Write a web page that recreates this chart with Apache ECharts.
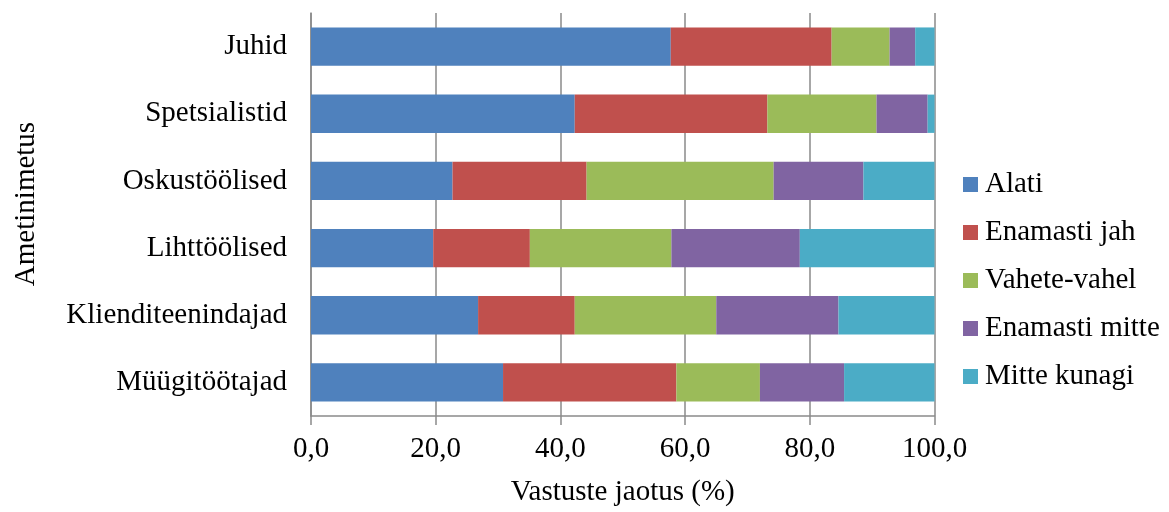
<!DOCTYPE html>
<html>
<head>
<meta charset="utf-8">
<script src="https://cdn.jsdelivr.net/npm/echarts@6/dist/echarts.min.js"></script>
<style>
  html, body { margin: 0; padding: 0; background: #fff; }
  #chart { width: 1169px; height: 512px; }
</style>
</head>
<body>
<div id="chart"></div>
<script>
// Occupations, top to bottom
const categories = ['Juhid', 'Spetsialistid', 'Oskustöölised', 'Lihttöölised', 'Klienditeenindajad', 'Müügitöötajad'];

// Share of answers per occupation (%)
const alati          = [57.7, 42.3, 22.7, 19.6, 26.8, 30.8];
const enamastiJah    = [25.8, 30.9, 21.5, 15.5, 15.5, 27.8];
const vaheteVahel    = [ 9.3, 17.5, 30.0, 22.7, 22.7, 13.4];
const enamastiMitte  = [ 4.1,  8.2, 14.4, 20.6, 19.6, 13.5];
const mitteKunagi    = [ 3.1,  1.1, 11.4, 21.6, 15.4, 14.5];

const seriesNames = ['Alati', 'Enamasti jah', 'Vahete-vahel', 'Enamasti mitte', 'Mitte kunagi'];
const seriesData = [alati, enamastiJah, vaheteVahel, enamastiMitte, mitteKunagi];
const colors = ['#4F81BD', '#C0504D', '#9BBB59', '#8064A2', '#4BACC6'];

const FONT = '"Liberation Serif", "Times New Roman", serif';
const FS = 29;
const GRID_COLOR = '#8a8a8a';

const chart = echarts.init(document.getElementById('chart'), null, { renderer: 'canvas' });

chart.setOption({
  animation: false,
  color: colors,
  textStyle: { fontFamily: FONT, color: '#000' },
  grid: { left: 311, right: 234.5, top: 13, bottom: 94, containLabel: false },
  legend: {
    orient: 'vertical',
    left: 958,
    top: 164,
    itemWidth: 15,
    itemHeight: 15,
    itemGap: 17,
    icon: 'rect',
    textStyle: { fontFamily: FONT, fontSize: FS, color: '#000', lineHeight: 31, padding: [0, 0, 0, 2] },
    data: seriesNames
  },
  xAxis: {
    type: 'value',
    min: 0,
    max: 100,
    interval: 20,
    name: 'Vastuste jaotus (%)',
    nameLocation: 'middle',
    nameGap: 62,
    nameTextStyle: { fontFamily: FONT, fontSize: FS, color: '#000' },
    axisLine: { show: true, lineStyle: { color: GRID_COLOR, width: 1.5 } },
    axisTick: { show: true, length: 9, lineStyle: { color: GRID_COLOR, width: 1.5 } },
    axisLabel: {
      fontFamily: FONT, fontSize: FS, color: '#000', margin: 19,
      formatter: v => v.toFixed(1).replace('.', ',')
    },
    splitLine: { show: true, lineStyle: { color: GRID_COLOR, width: 1.5 } }
  },
  yAxis: {
    type: 'category',
    data: categories,
    inverse: true,
    name: 'Ametinimetus',
    nameLocation: 'middle',
    nameGap: 270,
    nameRotate: 90,
    nameTextStyle: { fontFamily: FONT, fontSize: FS, color: '#000', padding: [0, 0, 0, 21] },
    axisLine: { show: true, lineStyle: { color: GRID_COLOR, width: 1.5 } },
    axisTick: { show: false },
    axisLabel: { fontFamily: FONT, fontSize: FS, color: '#000', margin: 24 },
    splitLine: { show: false }
  },
  series: seriesNames.map((name, i) => ({
    name: name,
    type: 'bar',
    stack: 'total',
    data: seriesData[i],
    barCategoryGap: '43%',
    itemStyle: { color: colors[i] }
  }))
});
</script>
</body>
</html>
